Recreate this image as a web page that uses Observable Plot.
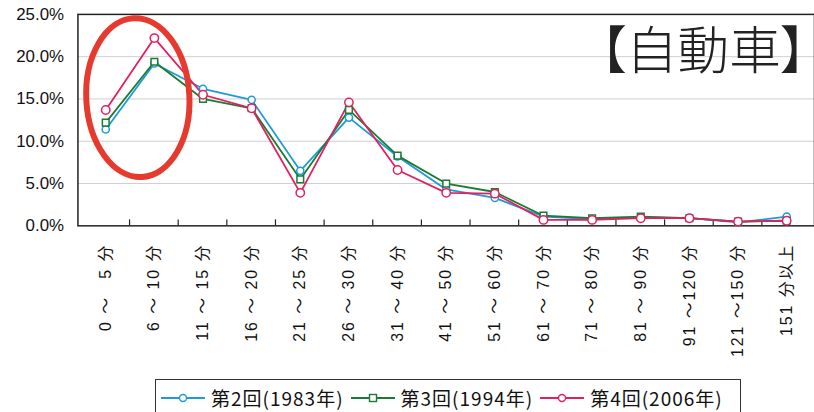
<!DOCTYPE html>
<html>
<head>
<meta charset="utf-8">
<script src="https://cdn.jsdelivr.net/npm/d3@7"></script>
<script src="https://cdn.jsdelivr.net/npm/@observablehq/plot@0.6"></script>
<style>
  html, body { margin: 0; padding: 0; background: #fff; overflow: hidden; width: 814px; height: 412px; }
  #wrap { position: relative; width: 814px; height: 412px; }
  #chart svg [aria-label="x-axis tick label"] text { letter-spacing: 2px; }
  #chart svg g[aria-label="text"] text { font-feature-settings: "palt" 1; }
  #legend {
    position: absolute; left: 155px; top: 379px; width: 586px; height: 40px;
    border: 1.3px solid #333; box-sizing: border-box; background: #fff;
    font-family: "Noto Sans CJK JP", sans-serif; font-size: 19px; color: #111;
    display: flex; align-items: flex-start; padding-top: 4px;
  }
  .item { display: flex; align-items: center; margin-left: 5px; margin-right: 2px; letter-spacing: 1px; }
  .item svg { margin-right: 6px; }
</style>
</head>
<body>
<div id="wrap">
  <div id="chart"></div>
  <div id="legend"></div>
</div>
<script>
const categories = ["0-5", "6-10", "11-15", "16-20", "21-25", "26-30", "31-40", "41-50", "51-60", "61-70", "71-80", "81-90", "91-120", "121-150", "151+"];
const tickLabels = ["0 ～ \u20075 分", "6 ～ 10 分", "11 ～ 15 分", "16 ～ 20 分", "21 ～ 25 分", "26 ～ 30 分", "31 ～ 40 分", "41 ～ 50 分", "51 ～ 60 分", "61 ～ 70 分", "71 ～ 80 分", "81 ～ 90 分", "91 ～120 分", "121 ～150 分", "151 分以上"];
const s1983 = [11.4, 19.2, 16.2, 14.9, 6.5, 12.8, 8.2, 4.3, 3.3, 1.1, 0.8, 1.0, 0.9, 0.4, 1.1];
const s1994 = [12.2, 19.4, 15.0, 13.9, 5.5, 13.7, 8.3, 5.0, 4.0, 1.2, 0.9, 1.1, 0.9, 0.5, 0.6];
const s2006 = [13.7, 22.2, 15.5, 13.9, 3.9, 14.6, 6.6, 3.9, 3.8, 0.7, 0.7, 0.9, 0.9, 0.5, 0.6];
const seriesNames = ["第2回(1983年)", "第3回(1994年)", "第4回(2006年)"];
const seriesColors = ["#1f9ad8", "#1c7a34", "#e2205e"];
const yTicks = [0, 5, 10, 15, 20, 25];
const title = "【自動車】";

const seriesValues = [s1983, s1994, s2006];
const data = seriesValues.flatMap((vals, si) =>
  vals.map((v, i) => ({series: seriesNames[si], cat: categories[i], value: v})));
const labelOf = new Map(categories.map((c, i) => [c, tickLabels[i]]));

function bandTicks(index, scales) {
  const x = scales.x, y = scales.y;
  const step = x(categories[1]) - x(categories[0]);
  const g = d3.create("svg:g");
  const y0 = y(0);
  categories.slice(0, -1).forEach(c => {
    g.append("line").attr("x1", x(c) + step / 2).attr("x2", x(c) + step / 2)
      .attr("y1", y0).attr("y2", y0 - 6).attr("stroke", "#222").attr("stroke-width", 1.2);
  });
  return g.node();
}

function ellipse(index, scales) {
  const x = scales.x, y = scales.y;
  const step = x(categories[1]) - x(categories[0]);
  const cx = (x(categories[0]) + x(categories[1])) / 2 + step * 0.17;
  const cy = (y(5.7) + y(24.5)) / 2;
  const ry = (y(5.7) - y(24.5)) / 2;
  return d3.create("svg:ellipse")
    .attr("cx", cx).attr("cy", cy).attr("rx", step * 1.06).attr("ry", ry)
    .attr("fill", "none").attr("stroke", "#e63a2e").attr("stroke-width", 6)
    .attr("transform", `rotate(-3 ${cx} ${cy})`)
    .node();
}

const symbols = ["circle", "square", "circle"];
const radii = [3.6, 3.8, 4.2];

const marks = [
  Plot.gridY(yTicks.slice(1, -1), {stroke: "#cfcfcf", strokeOpacity: 1, strokeWidth: 1}),
  Plot.axisY({ticks: yTicks, tickFormat: d => d.toFixed(1) + "%", tickSize: 0, tickPadding: 14, fontSize: 17, fill: "#111", label: null}),
  Plot.axisX({tickRotate: -90, tickSize: 0, tickPadding: 18, fontSize: 16, fill: "#111", tickFormat: c => labelOf.get(c), label: null}),
  Plot.frame({stroke: "#222", strokeWidth: 1.5}),
  bandTicks,
  ...seriesNames.map((name, si) => Plot.line(data.filter(d => d.series === name), {
    x: "cat", y: "value", stroke: seriesColors[si], strokeWidth: 1.8
  })),
  ...seriesNames.map((name, si) => Plot.dot(data.filter(d => d.series === name), {
    x: "cat", y: "value", stroke: seriesColors[si], fill: "white", symbol: symbols[si], r: radii[si], strokeWidth: 1.5
  })),
  Plot.text([title], {frameAnchor: "top-right", dx: -8, dy: 18, lineAnchor: "top", fontSize: 52, fontWeight: 300, fill: "#222", fontFamily: "'Noto Sans CJK JP', sans-serif", text: d => d}),
  ellipse
];

const chart = Plot.plot({
  width: 820,
  height: 370,
  marginLeft: 78,
  marginRight: 0,
  marginTop: 14,
  marginBottom: 143,
  style: {fontFamily: "'Liberation Sans', 'Noto Sans CJK JP', sans-serif", background: "white", overflow: "visible"},
  x: {type: "point", domain: categories, padding: 0.5, axis: null},
  y: {domain: [0, 25], axis: null},
  marks
});
document.getElementById("chart").appendChild(chart);

const legend = document.getElementById("legend");
seriesNames.forEach((name, si) => {
  const item = document.createElement("div");
  item.className = "item";
  const sw = d3.create("svg").attr("width", 44).attr("height", 14);
  sw.append("line").attr("x1", 0).attr("x2", 44).attr("y1", 7).attr("y2", 7)
    .attr("stroke", seriesColors[si]).attr("stroke-width", 1.8);
  if (symbols[si] === "square") {
    sw.append("rect").attr("x", 18.5).attr("y", 3.5).attr("width", 7).attr("height", 7)
      .attr("fill", "white").attr("stroke", seriesColors[si]).attr("stroke-width", 1.4);
  } else {
    sw.append("circle").attr("cx", 22).attr("cy", 7).attr("r", 3.5)
      .attr("fill", "white").attr("stroke", seriesColors[si]).attr("stroke-width", 1.4);
  }
  item.appendChild(sw.node());
  const t = document.createElement("span");
  t.textContent = name;
  item.appendChild(t);
  legend.appendChild(item);
});
</script>
</body>
</html>
